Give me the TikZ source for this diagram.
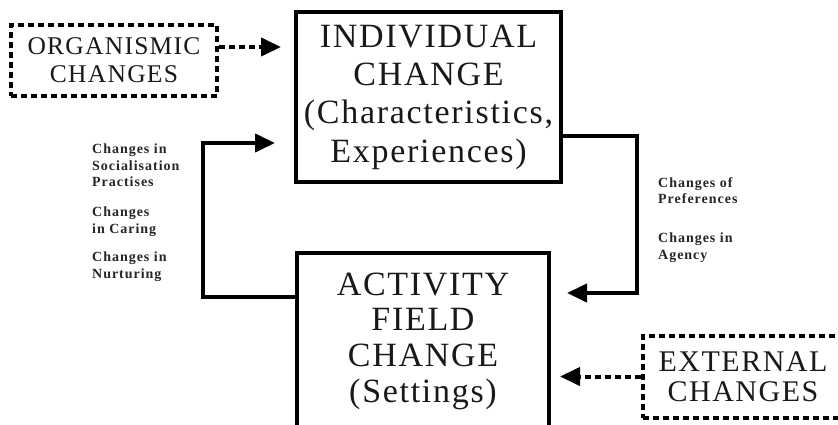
\documentclass[tikz,border=0pt]{standalone}
\usepackage{fontspec}
\setmainfont{Liberation Serif}
\newfontfamily\widefont[LetterSpace=5]{Liberation Serif}
\newfontfamily\notefont[LetterSpace=7]{Liberation Serif}
\usepackage{tikz}
\usetikzlibrary{arrows.meta}
\tikzset{
  changebox/.style={rectangle, draw=black, line width=4pt, align=center,
    inner sep=0pt, text=black!90, font=\widefont\fontsize{34}{38.3}\selectfont},
  dotbox/.style={rectangle, draw=black, line width=4pt, align=center,
    inner sep=0pt, text=black!90, dash pattern=on 6pt off 4pt,
    font=\widefont\fontsize{25.5}{28}\selectfont},
  loopline/.style={-{Triangle[length=20pt, width=18pt]}, line width=4pt, color=black},
  dotline/.style={loopline, dash pattern=on 6pt off 4pt},
  note/.style={anchor=north west, align=left, inner sep=0pt, text=black!85,
    font=\notefont\bfseries\fontsize{14}{16.5}\selectfont}
}

\begin{document}
\begin{tikzpicture}[x=1pt, y=-1pt]
  \path[use as bounding box, fill=white] (0,0) rectangle (838,425);

  % Main boxes
  \node[changebox, minimum width=265pt, minimum height=170pt] (indiv) at (428.5,97)
    {INDIVIDUAL\\CHANGE\\(Characteristics,\\Experiences)};
  \node[changebox, minimum width=252pt, minimum height=176pt,
    font=\widefont\fontsize{34}{35.7}\selectfont] (act) at (423,341)
    {ACTIVITY\\FIELD\\CHANGE\\(Settings)};

  % Outside influences
  \node[dotbox, minimum width=206pt, minimum height=71pt] (org) at (114,60.5)
    {ORGANISMIC\\CHANGES};
  \node[dotbox, minimum width=200pt, minimum height=82pt,
    font=\widefont\fontsize{30}{30}\selectfont] (ext) at (743,376.5)
    {EXTERNAL\\CHANGES};

  % Arrows
  \coordinate (orgout) at ([yshift=13.5pt]org.east);
  \draw[dotline, shorten >=13pt] (orgout) -- (orgout -| indiv.west);
  \draw[dotline, shorten >=9pt] (ext.west) -- (ext.west -| act.east);
  \draw[loopline, shorten >=16pt] ([yshift=-39pt]indiv.east) -- ++(74,0)
    |- ([yshift=48pt]act.east);
  \draw[loopline, shorten >=19pt] ([yshift=44pt]act.west) -- ++(-92,0)
    |- ([yshift=-46pt]indiv.west);

  % Labels on the loops
  \node[note] (soc) at (92,144) {Changes in\\Socialisation\\Practises};
  \node[note] (car) at (92,207) {Changes\\in Caring};
  \node[note] (nur) at (92,252) {Changes in\\Nurturing};
  \node[note] (pref) at (658,177) {Changes of\\Preferences};
  \node[note] (agen) at (658,233) {Changes in\\Agency};
\end{tikzpicture}
\end{document}
